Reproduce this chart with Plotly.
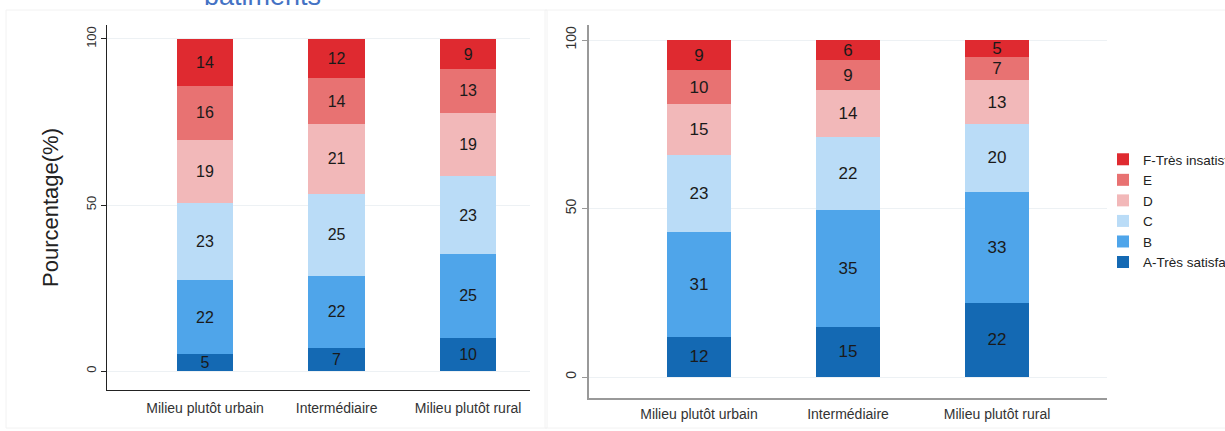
import plotly.graph_objects as go

categories = ["Milieu plutôt urbain", "Intermédiaire", "Milieu plutôt rural"]
levels = ["A-Très satisfaisant", "B", "C", "D", "E", "F-Très insatisfaisant"]
colors = ["#1469b3", "#4fa5ea", "#badcf7", "#f2b8b9", "#e87272", "#df2a30"]

left_A = [5, 7, 10]
left_B = [22, 22, 25]
left_C = [23, 25, 23]
left_D = [19, 21, 19]
left_E = [16, 14, 13]
left_F = [14, 12, 9]

right_A = [12, 15, 22]
right_B = [31, 35, 33]
right_C = [23, 22, 20]
right_D = [15, 14, 13]
right_E = [10, 9, 7]
right_F = [9, 6, 5]

left_series = [left_A, left_B, left_C, left_D, left_E, left_F]
right_series = [right_A, right_B, right_C, right_D, right_E, right_F]

W, H = 1225, 431
def px(x):
    return x / W
def py(y):
    return 1 - y / H

FONT = "Arial, Liberation Sans, sans-serif"

fig = go.Figure()
for i, (lvl, col) in enumerate(zip(levels, colors)):
    fig.add_trace(go.Bar(x=categories, y=left_series[i], name=lvl, marker=dict(color=col, line=dict(width=0)),
                         text=left_series[i], textposition="inside", insidetextanchor="middle", textangle=0,
                         textfont=dict(size=16, color="#1a1a1a", family=FONT),
                         xaxis="x", yaxis="y", showlegend=False, hoverinfo="skip"))
for i, (lvl, col) in enumerate(zip(levels, colors)):
    fig.add_trace(go.Bar(x=categories, y=right_series[i], name=lvl, marker=dict(color=col, line=dict(width=0)),
                         text=right_series[i], textposition="inside", insidetextanchor="middle", textangle=0,
                         textfont=dict(size=17, color="#1a1a1a", family=FONT),
                         xaxis="x2", yaxis="y2", showlegend=True, hoverinfo="skip"))

grid = "#edf1f4"
common_y = dict(tickvals=[0, 50, 100], showgrid=True, gridcolor=grid, gridwidth=1, zeroline=False,
                showline=True, ticks="outside", ticklen=5, tickangle=-90)
common_x = dict(showgrid=False, zeroline=False, showline=True, ticks="outside", tickcolor="rgba(0,0,0,0)",
                tickfont=dict(size=14, color="#333", family=FONT), categoryorder="array", categoryarray=categories)

fig.update_layout(
    width=W, height=H, margin=dict(l=0, r=0, t=0, b=0, autoexpand=False),
    paper_bgcolor="white", plot_bgcolor="rgba(0,0,0,0)",
    barmode="stack", barnorm="percent", bargap=0.57,
    uniformtext=dict(minsize=16, mode="show"),
    font=dict(family=FONT),
    xaxis=dict(domain=[px(107), px(530)], range=[-0.745, 2.47], anchor="y", linecolor="#222", linewidth=1,
               ticklen=5, **common_x),
    yaxis=dict(domain=[py(390), py(25)], range=[-5.7, 104.2], anchor="x", linecolor="#222", linewidth=1, tickcolor="#222",
               tickfont=dict(size=13, color="#333", family=FONT),
               title=dict(text="Pourcentage(%)", font=dict(size=22, color="#222", family=FONT), standoff=19), **common_y),
    xaxis2=dict(domain=[px(589), px(1107)], range=[-0.738, 2.738], anchor="y2", linecolor="#999", linewidth=2,
                ticklen=2, **common_x),
    yaxis2=dict(domain=[py(398), py(25)], range=[-6.23, 104.45], anchor="x2", linecolor="#999", linewidth=2, tickcolor="#999",
                tickfont=dict(size=14, color="#333", family=FONT), **common_y),
    legend=dict(x=px(1103), y=py(144), xanchor="left", yanchor="top", traceorder="reversed",
                font=dict(size=13.5, color="#222", family=FONT), bgcolor="rgba(0,0,0,0)"),
    shapes=[
        dict(type="rect", xref="paper", yref="paper", x0=px(6), x1=px(547), y0=py(428), y1=py(10),
             fillcolor="rgba(0,0,0,0)", line=dict(color="#f2f2f2", width=1), layer="below"),
        dict(type="rect", xref="paper", yref="paper", x0=px(545), x1=px(1240), y0=py(428), y1=py(10),
             fillcolor="rgba(0,0,0,0)", line=dict(color="#f2f2f2", width=1), layer="below"),
    ],
    annotations=[
        dict(text="bâtiments", xref="paper", yref="paper", x=px(262), y=py(13), xanchor="center", yanchor="bottom",
             showarrow=False, font=dict(size=27, color="#4472c4", family=FONT)),
    ],
)

fig.write_html("out.html", config={"displayModeBar": False},
               post_script="document.body.style.margin='0';document.body.style.overflow='hidden';")
